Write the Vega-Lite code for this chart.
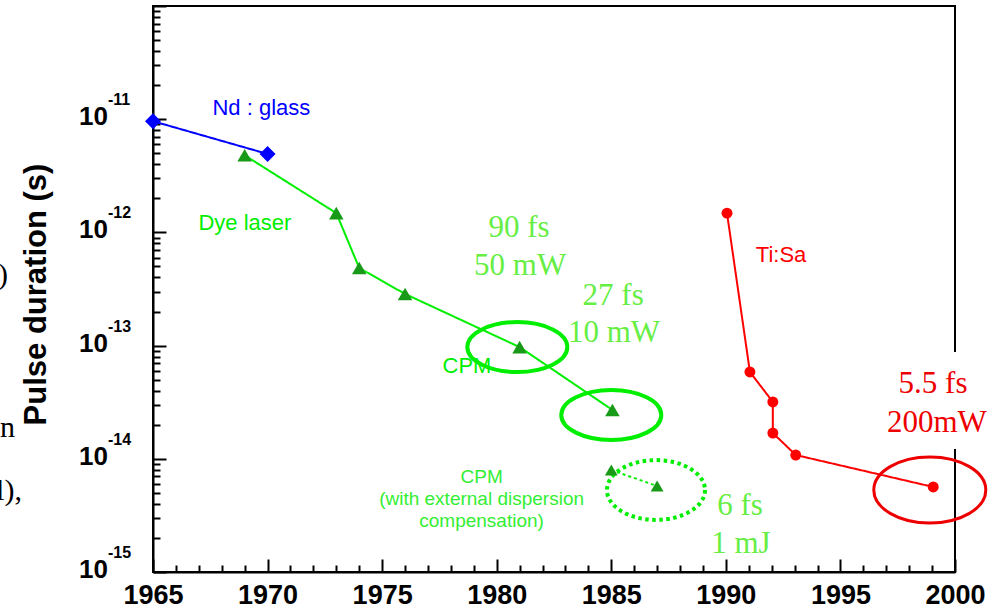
{
  "$schema": "https://vega.github.io/schema/vega-lite/v6.json",
  "width": 802,
  "height": 566,
  "autosize": {"type": "none"},
  "padding": {"left": 153, "top": 6, "right": 43, "bottom": 36},
  "background": "white",
  "config": {
    "view": {"stroke": "black", "strokeWidth": 2},
    "axis": {"grid": false}
  },
  "datasets": {
    "series": [
      {"series": "Nd:glass", "i": 1, "year": 1965, "tau": 9.6e-12},
      {"series": "Nd:glass", "i": 2, "year": 1970, "tau": 4.93e-12},
      {"series": "Dye", "i": 3, "year": 1969, "tau": 4.8e-12},
      {"series": "Dye", "i": 4, "year": 1973, "tau": 1.48e-12},
      {"series": "Dye", "i": 5, "year": 1974, "tau": 4.85e-13},
      {"series": "Dye", "i": 6, "year": 1976, "tau": 2.86e-13},
      {"series": "Dye", "i": 7, "year": 1981, "tau": 9.7e-14},
      {"series": "Dye", "i": 8, "year": 1985.05, "tau": 2.7e-14},
      {"series": "CPMext", "i": 9, "year": 1985, "tau": 7.96e-15},
      {"series": "CPMext", "i": 10, "year": 1987, "tau": 5.75e-15},
      {"series": "Ti:Sa", "i": 11, "year": 1990.05, "tau": 1.48e-12},
      {"series": "Ti:Sa", "i": 12, "year": 1991.05, "tau": 5.85e-14},
      {"series": "Ti:Sa", "i": 13, "year": 1992.05, "tau": 3.18e-14},
      {"series": "Ti:Sa", "i": 14, "year": 1992.05, "tau": 1.69e-14},
      {"series": "Ti:Sa", "i": 15, "year": 1993.05, "tau": 1.08e-14},
      {"series": "Ti:Sa", "i": 16, "year": 1999.05, "tau": 5.64e-15}
    ],
    "ellipses": [
      {"kind": "green", "year": 1980.9, "tau": 9.7e-14},
      {"kind": "green", "year": 1985.0, "tau": 2.44e-14},
      {"kind": "dotted", "year": 1986.95, "tau": 5.3e-15},
      {"kind": "red", "year": 1998.9, "tau": 5.3e-15}
    ],
    "textbox": [
      {"year": 1997.5, "year2": 2001.5, "tau": 1.221e-14, "tau2": 8.78e-14}
    ],
    "labels": [
      {"text": "Nd : glass", "series": "Nd:glass", "year": 1969.73, "tau": 1.089e-11},
      {"text": "Dye laser", "series": "Dye", "year": 1969.01, "tau": 1.05e-12},
      {"text": "CPM", "series": "Dye", "year": 1978.7, "tau": 5.728e-14},
      {"text": "Ti:Sa", "series": "Ti:Sa", "year": 1992.41, "tau": 5.478e-13}
    ],
    "cpmext": [
      {"text": "CPM", "year": 1979.34, "tau": 6.113e-15},
      {"text": "(with external dispersion", "year": 1979.34, "tau": 3.905e-15},
      {"text": "compensation)", "year": 1979.34, "tau": 2.497e-15}
    ],
    "notesGreen": [
      {"text": "90 fs", "year": 1980.97, "tau": 9.11e-13},
      {"text": "50 mW", "year": 1981.02, "tau": 4.205e-13},
      {"text": "27 fs", "year": 1985.08, "tau": 2.284e-13},
      {"text": "10 mW", "year": 1985.12, "tau": 1.076e-13},
      {"text": "6 fs", "year": 1990.62, "tau": 3.189e-15},
      {"text": "1 mJ", "year": 1990.66, "tau": 1.471e-15}
    ],
    "notesRed": [
      {"text": "5.5 fs", "year": 1999.04, "tau": 3.814e-14},
      {"text": "200mW", "year": 1999.21, "tau": 1.724e-14}
    ],
    "fragments": [
      {"text": ")", "year": 1958.67, "tau": 3.5e-13},
      {"text": "n", "year": 1958.98, "tau": 1.558e-14},
      {"text": "l),", "year": 1959.28, "tau": 4.325e-15}
    ],
    "ylabels": [
      {"year": 1965, "tau": 1e-11, "exp": "-11"},
      {"year": 1965, "tau": 1e-12, "exp": "-12"},
      {"year": 1965, "tau": 1e-13, "exp": "-13"},
      {"year": 1965, "tau": 1e-14, "exp": "-14"},
      {"year": 1965, "tau": 1e-15, "exp": "-15"}
    ]
  },
  "encoding": {
    "x": {
      "field": "year",
      "type": "quantitative",
      "scale": {"domain": [1965, 2000], "nice": false, "zero": false},
      "axis": {
        "title": null,
        "values": [1965,1966,1967,1968,1969,1970,1971,1972,1973,1974,1975,1976,1977,1978,1979,1980,1981,1982,1983,1984,1985,1986,1987,1988,1989,1990,1991,1992,1993,1994,1995,1996,1997,1998,1999,2000],
        "format": "d",
        "labelExpr": "datum.value % 5 == 0 ? datum.label : ''",
        "labelFlush": false,
        "labelOverlap": false,
        "labelFont": "Liberation Sans",
        "labelFontWeight": "bold",
        "labelFontSize": 27,
        "labelColor": "black",
        "labelPadding": 23,
        "tickSize": {"condition": {"test": "datum.value % 5 == 0", "value": -13}, "value": -7},
        "tickWidth": 2,
        "tickColor": "black",
        "domainColor": "black",
        "domainWidth": 2
      }
    },
    "y": {
      "field": "tau",
      "type": "quantitative",
      "scale": {"type": "log", "domain": [1e-15, 1e-10], "nice": false},
      "axis": {
        "title": "Pulse duration (s)",
        "titleFont": "Liberation Sans",
        "titleFontWeight": "bold",
        "titleFontSize": 31,
        "titleColor": "black",
        "titleAngle": -90,
        "titleX": -117,
        "titleY": 288,
        "titleAlign": "center",
        "titleBaseline": "middle",
        "labels": false,
        "values": [1e-15,2e-15,3e-15,4e-15,5e-15,6e-15,7e-15,8e-15,9e-15,1e-14,2e-14,3e-14,4e-14,5e-14,6e-14,7e-14,8e-14,9e-14,1e-13,2e-13,3e-13,4e-13,5e-13,6e-13,7e-13,8e-13,9e-13,1e-12,2e-12,3e-12,4e-12,5e-12,6e-12,7e-12,8e-12,9e-12,1e-11,2e-11,3e-11,4e-11,5e-11,6e-11,7e-11,8e-11,9e-11,1e-10],
        "tickSize": {"condition": {"test": "abs(log(datum.value)/LN10 - round(log(datum.value)/LN10)) < 0.001", "value": -13}, "value": -7},
        "tickWidth": 2,
        "tickColor": "black",
        "domainColor": "black",
        "domainWidth": 2
      }
    }
  },
  "layer": [
    {
      "data": {"name": "series"},
      "mark": {"type": "line", "clip": false},
      "encoding": {
        "detail": {"field": "series"},
        "order": {"field": "i"},
        "color": {
          "field": "series",
          "type": "nominal",
          "legend": null,
          "scale": {"domain": ["Nd:glass", "Dye", "CPMext", "Ti:Sa"], "range": ["#0000ff", "#00ee00", "#00ee00", "#ff0000"]}
        },
        "strokeDash": {
          "field": "series",
          "type": "nominal",
          "legend": null,
          "scale": {"domain": ["Nd:glass", "Dye", "CPMext", "Ti:Sa"], "range": [[1, 0], [1, 0], [3, 3], [1, 0]]}
        },
        "strokeWidth": {
          "field": "series",
          "type": "nominal",
          "legend": null,
          "scale": {"domain": ["Nd:glass", "Dye", "CPMext", "Ti:Sa"], "range": [2, 2, 3.5, 2]}
        }
      }
    },
    {
      "data": {"name": "ellipses"},
      "transform": [{"filter": "datum.kind == 'green'"}],
      "mark": {"type": "point", "clip": false, "filled": false, "opacity": 1, "stroke": "#00ee00", "strokeWidth": 4, "size": 10000,
        "shape": "M1,0C1,0.2762,0.5523,0.5,0,0.5C-0.5523,0.5,-1,0.2762,-1,0C-1,-0.2762,-0.5523,-0.5,0,-0.5C0.5523,-0.5,1,-0.2762,1,0Z"}
    },
    {
      "data": {"name": "ellipses"},
      "transform": [{"filter": "datum.kind == 'dotted'"}],
      "mark": {"type": "point", "clip": false, "filled": false, "opacity": 1, "stroke": "#00ee00", "strokeWidth": 4, "strokeDash": [3.5, 3.5], "size": 9604,
        "shape": "M1,0C1,0.3369,0.5523,0.61,0,0.61C-0.5523,0.61,-1,0.3369,-1,0C-1,-0.3369,-0.5523,-0.61,0,-0.61C0.5523,-0.61,1,-0.3369,1,0Z"}
    },
    {
      "data": {"name": "ellipses"},
      "transform": [{"filter": "datum.kind == 'red'"}],
      "mark": {"type": "point", "clip": false, "filled": false, "opacity": 1, "stroke": "#ee0000", "strokeWidth": 3, "size": 12544,
        "shape": "M1,0C1,0.3259,0.5523,0.59,0,0.59C-0.5523,0.59,-1,0.3259,-1,0C-1,-0.3259,-0.5523,-0.59,0,-0.59C0.5523,-0.59,1,-0.3259,1,0Z"}
    },
    {
      "data": {"name": "series"},
      "mark": {"type": "point", "clip": false, "filled": true, "opacity": 1},
      "encoding": {
        "color": {"field": "series", "type": "nominal", "legend": null,
          "scale": {"domain": ["Nd:glass", "Dye", "CPMext", "Ti:Sa"], "range": ["#0000ff", "#00ee00", "#00ee00", "#ff0000"]}},
        "fill": {"field": "series", "type": "nominal", "legend": null,
          "scale": {"domain": ["Nd:glass", "Dye", "CPMext", "Ti:Sa"], "range": ["#0000ff", "#189a18", "#189a18", "#ff0000"]}},
        "shape": {"field": "series", "type": "nominal", "legend": null,
          "scale": {"domain": ["Nd:glass", "Dye", "CPMext", "Ti:Sa"], "range": ["diamond", "triangle-up", "triangle-up", "circle"]}},
        "size": {"field": "series", "type": "nominal", "legend": null,
          "scale": {"domain": ["Nd:glass", "Dye", "CPMext", "Ti:Sa"], "range": [256, 120, 120, 289]}}
      }
    },
    {
      "data": {"name": "textbox"},
      "mark": {"type": "rect", "clip": false, "fill": "white", "stroke": null},
      "encoding": {
        "x2": {"field": "year2"},
        "y2": {"field": "tau2"}
      }
    },
    {
      "data": {"name": "labels"},
      "mark": {"type": "text", "font": "Liberation Sans", "fontSize": 22, "align": "center", "baseline": "alphabetic"},
      "encoding": {
        "text": {"field": "text"},
        "color": {"field": "series", "type": "nominal", "legend": null,
          "scale": {"domain": ["Nd:glass", "Dye", "CPMext", "Ti:Sa"], "range": ["#0000ff", "#00ee00", "#00ee00", "#ff0000"]}}
      }
    },
    {
      "data": {"name": "cpmext"},
      "mark": {"type": "text", "font": "Liberation Sans", "fontSize": 19, "align": "center", "baseline": "alphabetic", "color": "#33ee33"},
      "encoding": {"text": {"field": "text"}}
    },
    {
      "data": {"name": "notesGreen"},
      "mark": {"type": "text", "font": "Liberation Serif", "fontSize": 31, "align": "center", "baseline": "alphabetic", "color": "#66ee44"},
      "encoding": {"text": {"field": "text"}}
    },
    {
      "data": {"name": "notesRed"},
      "mark": {"type": "text", "font": "Liberation Serif", "fontSize": 31, "align": "center", "baseline": "alphabetic", "color": "#ee0000"},
      "encoding": {"text": {"field": "text"}}
    },
    {
      "data": {"name": "fragments"},
      "mark": {"type": "text", "font": "Liberation Serif", "fontSize": 30, "align": "right", "baseline": "alphabetic", "color": "black"},
      "encoding": {"text": {"field": "text"}}
    },
    {
      "data": {"name": "ylabels"},
      "mark": {"type": "text", "text": "10", "font": "Liberation Sans", "fontWeight": "bold", "fontSize": 26, "align": "right", "baseline": "alphabetic", "dx": -45, "dy": 6, "color": "black"}
    },
    {
      "data": {"name": "ylabels"},
      "mark": {"type": "text", "font": "Liberation Sans", "fontWeight": "bold", "fontSize": 16, "align": "left", "baseline": "alphabetic", "dx": -45, "dy": -14, "color": "black"},
      "encoding": {"text": {"field": "exp"}}
    }
  ]
}
